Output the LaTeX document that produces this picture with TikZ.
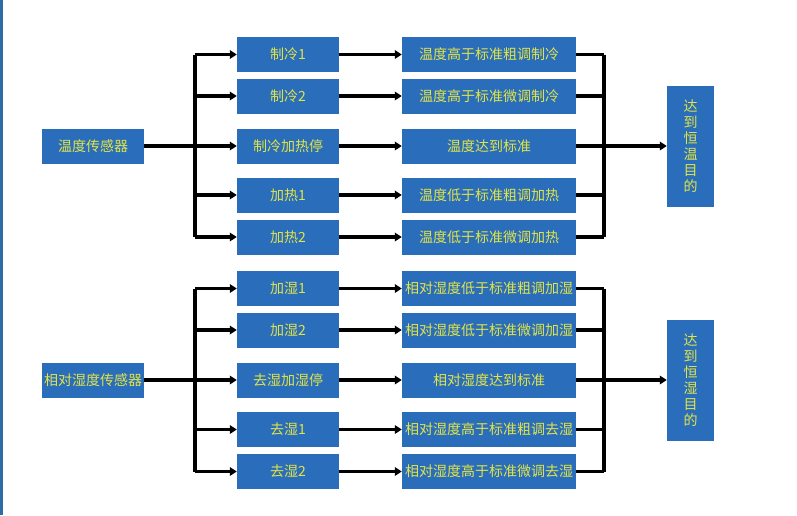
\documentclass[tikz,border=0pt]{standalone}
\usepackage{fontspec}
\setmainfont{Noto Sans CJK SC}
\usetikzlibrary{arrows.meta}

\definecolor{boxblue}{RGB}{42,110,187}
\definecolor{edgeblue}{RGB}{46,109,164}
\definecolor{txtyellow}{RGB}{226,228,70}

\tikzset{
  blk/.style={fill=boxblue, text=txtyellow, font=\fontsize{14}{16}\selectfont,
              inner sep=0pt, minimum height=35pt},
  midblk/.style={blk, minimum width=102pt},
  resblk/.style={blk, minimum width=174pt},
  goalblk/.style={blk, minimum width=47pt, minimum height=121pt, align=center},
  ln/.style={line width=3.3pt, black},
  arr/.style={ln, -{Triangle[length=7pt,width=8.5pt]}},
}

\begin{document}
\begin{tikzpicture}[x=1pt, y=-1pt]
    \useasboundingbox (0,0) rectangle (797,515);
    \fill[white] (0,0) rectangle (797,515);
    \fill[edgeblue] (0,0) rectangle (2.5,515);

    % temperature
    \node[midblk] (tsen) at (93,146) {温度传感器};
    \node[goalblk] (tgoal) at (690.5,146) {达\\到\\恒\\温\\目\\的};
    \coordinate (tb) at (195,146);
    \coordinate (tm) at (604,146);

    \foreach \y/\a/\b [count=\i] in {54.5/制冷1/温度高于标准粗调制冷,
                                     96/制冷2/温度高于标准微调制冷,
                                     146/制冷加热停/温度达到标准,
                                     195/加热1/温度低于标准粗调加热,
                                     237/加热2/温度低于标准微调加热}
    {
        \node[midblk] (ta\i) at (288,\y) {\a};
        \node[resblk] (tr\i) at (489,\y) {\b};
        \draw[arr] (tb |- ta\i.west) -- (ta\i.west);
        \draw[arr] (ta\i.east) -- (tr\i.west);
        \draw[ln] (tr\i.east) -- (tm |- tr\i.east);
    }
    \draw[ln] (tb |- ta1.west) -- (tb |- ta5.west);
    \draw[ln] (tm |- tr1.east) -- (tm |- tr5.east);
    \draw[ln] (tsen.east) -- (tb);
    \draw[arr] (tm) -- (tgoal.west);

    % humidity
    \node[midblk] (hsen) at (93,380) {相对湿度传感器};
    \node[goalblk] (hgoal) at (690.5,380) {达\\到\\恒\\湿\\目\\的};
    \coordinate (hb) at (195,380);
    \coordinate (hm) at (604,380);

    \foreach \y/\a/\b [count=\i] in {288.5/加湿1/相对湿度低于标准粗调加湿,
                                     330/加湿2/相对湿度低于标准微调加湿,
                                     380/去湿加湿停/相对湿度达到标准,
                                     429.5/去湿1/相对湿度高于标准粗调去湿,
                                     471.5/去湿2/相对湿度高于标准微调去湿}
    {
        \node[midblk] (ha\i) at (288,\y) {\a};
        \node[resblk] (hr\i) at (489,\y) {\b};
        \draw[arr] (hb |- ha\i.west) -- (ha\i.west);
        \draw[arr] (ha\i.east) -- (hr\i.west);
        \draw[ln] (hr\i.east) -- (hm |- hr\i.east);
    }
    \draw[ln] (hb |- ha1.west) -- (hb |- ha5.west);
    \draw[ln] (hm |- hr1.east) -- (hm |- hr5.east);
    \draw[ln] (hsen.east) -- (hb);
    \draw[arr] (hm) -- (hgoal.west);

\end{tikzpicture}
\end{document}
